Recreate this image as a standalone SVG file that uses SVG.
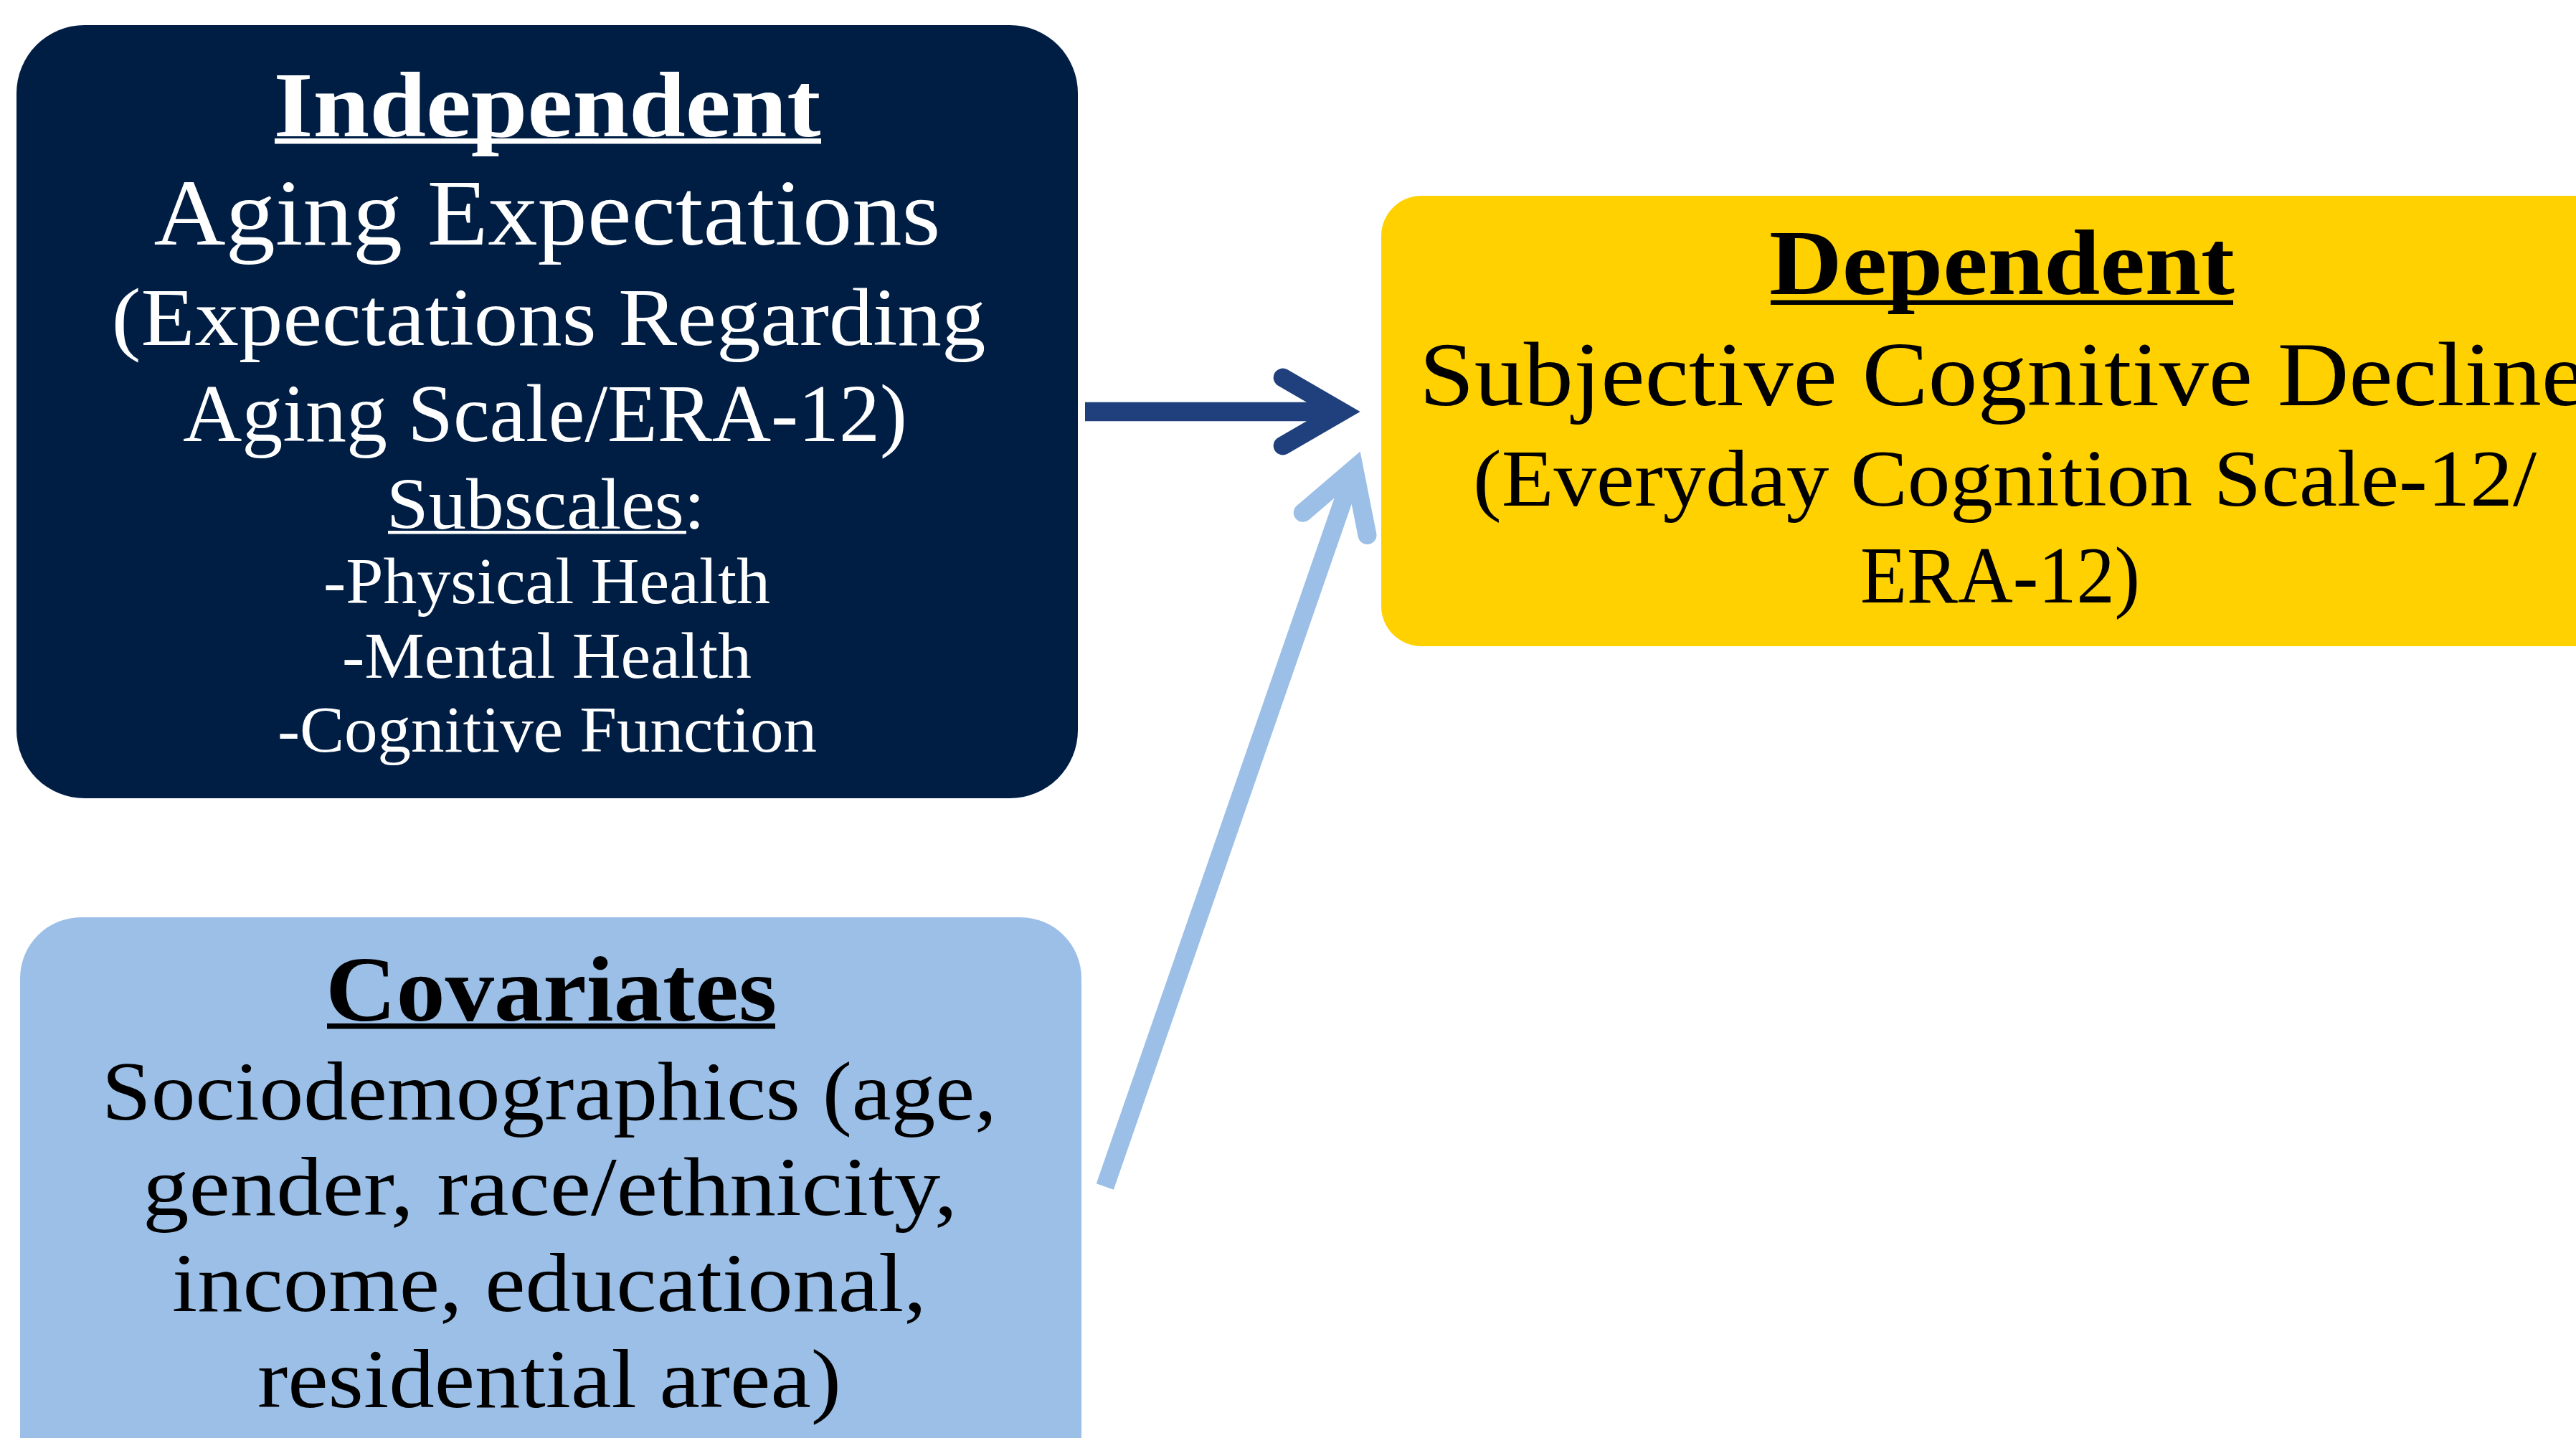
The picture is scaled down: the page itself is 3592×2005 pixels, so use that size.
<svg xmlns="http://www.w3.org/2000/svg" width="3592" height="2005" viewBox="0 0 3592 2005">
  <style>
    text { font-family: "Liberation Serif", "Times New Roman", serif; text-anchor: middle; }
    .head { font-weight: bold; font-size: 130px; }
    .light { fill: #FFFFFF; }
    .dark { fill: #000000; }
    .rule-light { fill: #FFFFFF; }
    .rule-dark { fill: #000000; }
  </style>
  <defs>
    <!-- open chevron arrowheads; reference point sits 26px behind the tip -->
    <marker id="head-navy" markerUnits="userSpaceOnUse" viewBox="-140 -80 160 160" markerWidth="160" markerHeight="160" refX="-26" refY="0" orient="auto" overflow="visible">
      <polyline points="-108,-47.5 -26,0 -108,47.5" fill="none" stroke="#1F407C" stroke-width="26" stroke-linecap="round" stroke-linejoin="miter" stroke-miterlimit="4"/>
    </marker>
    <marker id="head-sky" markerUnits="userSpaceOnUse" viewBox="-140 -80 160 160" markerWidth="160" markerHeight="160" refX="-26" refY="0" orient="auto" overflow="visible">
      <polyline points="-107,-47.5 -26,0 -107,47.5" fill="none" stroke="#9BBFE6" stroke-width="26" stroke-linecap="round" stroke-linejoin="miter" stroke-miterlimit="4"/>
    </marker>
  </defs>

  <rect width="3592" height="2005" fill="#FFFFFF"/>

  <!-- Independent variable -->
  <g id="independent">
    <rect x="23" y="35" width="1480" height="1078" rx="95" ry="95" fill="#001E44"/>
    <text class="head light" x="763" y="190" textLength="763" lengthAdjust="spacingAndGlyphs">Independent</text>
    <rect class="rule-light" x="383" y="193" width="762" height="7.5"/>
    <text class="light" x="763" y="341" font-size="132" textLength="1097" lengthAdjust="spacingAndGlyphs">Aging Expectations</text>
    <text class="light" x="765" y="481" font-size="114" textLength="1219" lengthAdjust="spacingAndGlyphs">(Expectations Regarding</text>
    <text class="light" x="760" y="615" font-size="114" textLength="1010" lengthAdjust="spacingAndGlyphs">Aging Scale/ERA-12)</text>
    <text class="light" x="761" y="737" font-size="102" textLength="444" lengthAdjust="spacingAndGlyphs">Subscales:</text>
    <rect class="rule-light" x="541" y="740" width="416" height="4.5"/>
    <text class="light" x="762.5" y="841" font-size="92" textLength="623" lengthAdjust="spacingAndGlyphs">-Physical Health</text>
    <text class="light" x="762.5" y="945" font-size="92" textLength="571" lengthAdjust="spacingAndGlyphs">-Mental Health</text>
    <text class="light" x="763" y="1048" font-size="92" textLength="752" lengthAdjust="spacingAndGlyphs">-Cognitive Function</text>
  </g>

  <!-- Dependent variable (box runs past the right edge) -->
  <g id="dependent">
    <rect x="1926" y="273" width="1732" height="628" rx="56" ry="56" fill="#FFD100"/>
    <text class="head dark" x="2791.5" y="410" font-size="128" textLength="649" lengthAdjust="spacingAndGlyphs">Dependent</text>
    <rect class="rule-dark" x="2469" y="418.5" width="645" height="6.5"/>
    <text class="dark" x="2792" y="565" font-size="128" textLength="1626" lengthAdjust="spacingAndGlyphs">Subjective Cognitive Decline</text>
    <text class="dark" x="2795.5" y="705" font-size="112" textLength="1483" lengthAdjust="spacingAndGlyphs">(Everyday Cognition Scale-12/</text>
    <text class="dark" x="2789" y="840" font-size="112" textLength="390" lengthAdjust="spacingAndGlyphs">ERA-12)</text>
  </g>

  <!-- Covariates (box runs past the bottom edge) -->
  <g id="covariates">
    <rect x="28" y="1279" width="1480" height="900" rx="85" ry="85" fill="#9BBFE6"/>
    <text class="head dark" x="768.5" y="1423" textLength="629" lengthAdjust="spacingAndGlyphs">Covariates</text>
    <rect class="rule-dark" x="456" y="1427" width="625" height="7.5"/>
    <text class="dark" x="766" y="1561" font-size="117" textLength="1248" lengthAdjust="spacingAndGlyphs">Sociodemographics (age,</text>
    <text class="dark" x="767" y="1694" font-size="117" textLength="1136" lengthAdjust="spacingAndGlyphs">gender, race/ethnicity,</text>
    <text class="dark" x="766" y="1828" font-size="117" textLength="1052" lengthAdjust="spacingAndGlyphs">income, educational,</text>
    <text class="dark" x="766" y="1962" font-size="117" textLength="814" lengthAdjust="spacingAndGlyphs">residential area)</text>
  </g>

  <!-- Connectors -->
  <g id="connectors" fill="none">
    <line x1="1513" y1="574" x2="1870.7" y2="574" stroke="#1F407C" stroke-width="26.5" marker-end="url(#head-navy)"/>
    <line x1="1540.8" y1="1654.5" x2="1888.2" y2="653.9" stroke="#9BBFE6" stroke-width="25.5" marker-end="url(#head-sky)"/>
  </g>
</svg>
